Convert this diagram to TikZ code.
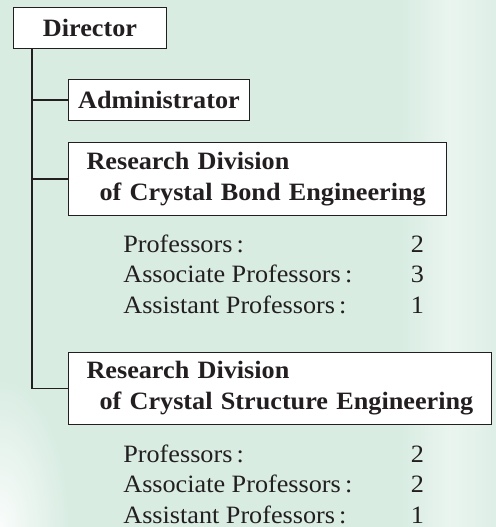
\documentclass[tikz,border=0pt]{standalone}
\usepackage{fontspec}
\setmainfont{Liberation Serif}[FakeStretch=1.05]

\definecolor{mint}{RGB}{216,236,226}
\definecolor{ink}{RGB}{35,31,32}

\tikzset{
	unit/.style={draw=ink, fill=white, line width=0.6pt, inner sep=0pt,
		minimum height=0.82cm, font={\fontsize{14.2}{17.6}\selectfont\bfseries\hyphenpenalty=10000\relax}},
	division/.style={unit, align=left, inner xsep=0.36cm, minimum height=1.46cm},
	staff/.style={anchor=base west, inner sep=0pt, font=\fontsize{14.2}{17.6}\selectfont},
	link/.style={draw=ink, line width=0.6pt},
}

\begin{document}
\begin{tikzpicture}[x=0.02cm, y=-0.02cm, every node/.style={text=ink}]
	\fill [mint] (0,0) rectangle (496,527);
	\useasboundingbox (0,0) rectangle (496,527);
	% paler patches of the backdrop
	\begin{scope}
		\clip (0,0) rectangle (496,527);
		\shade [inner color=white!85!mint, outer color=mint] (0,527) ellipse [x radius=70, y radius=150];
		\shade [left color=mint, right color=white!45!mint] (400,0) rectangle (450,527);
		\shade [left color=white!45!mint, right color=white!15!mint] (450,0) rectangle (496,527);
	\end{scope}

	\node [unit, minimum width=3.06cm, anchor=north west] (dir) at (13,7) {Director};
	\node [unit, minimum width=3.62cm, anchor=north west] (adm) at (68,79) {Administrator};

	\node [division, text width=6.84cm, anchor=north west] (bond) at (68,142)
		{Research Division\\ \hspace*{0.26cm}of Crystal Bond Engineering};
	\node [staff] (bondstaff) at (123,252) {\begin{tabular}[t]{@{}p{5.75cm}@{}l@{}}
		Professors\,: & 2\\
		Associate Professors\,: & 3\\
		Assistant Professors\,: & 1
	\end{tabular}};

	\node [division, text width=7.74cm, minimum height=1.44cm, anchor=north west] (struct) at (68,352)
		{Research Division\\ \hspace*{0.26cm}of Crystal Structure Engineering};
	\node [staff] (structstaff) at (123,462) {\begin{tabular}[t]{@{}p{5.75cm}@{}l@{}}
		Professors\,: & 2\\
		Associate Professors\,: & 2\\
		Assistant Professors\,: & 1
	\end{tabular}};

	% tree lines
	\coordinate (trunk) at ([xshift=0.38cm]dir.south west);
	\draw [link] (trunk) |- (struct.west);
	\draw [link] (trunk |- adm.west) -- (adm.west);
	\draw [link] (trunk |- bond.west) -- (bond.west);
\end{tikzpicture}
\end{document}
